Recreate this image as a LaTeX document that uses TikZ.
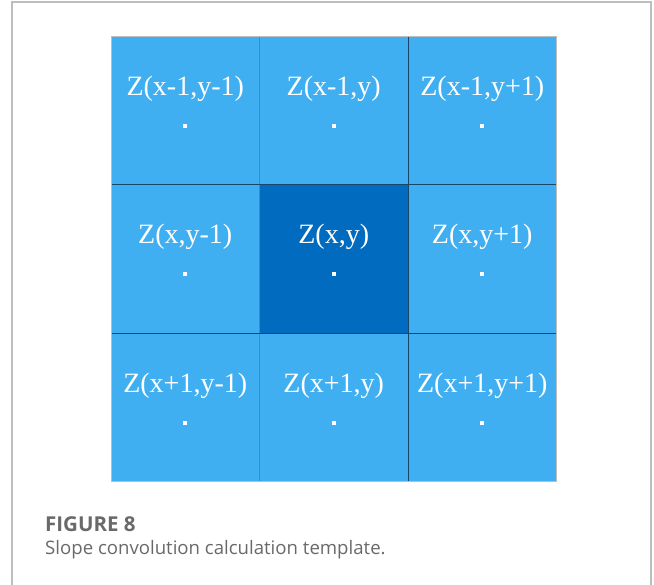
\documentclass[tikz,border=0pt]{standalone}
\usepackage{fontspec}
\setmainfont{Liberation Serif}
\newfontfamily\capfont{Open Sans}
\usetikzlibrary{positioning,calc}
\definecolor{cellblue}{RGB}{63,175,242}
\definecolor{midblue}{RGB}{0,107,191}
\definecolor{cellline}{RGB}{45,145,210}
\definecolor{sepline}{RGB}{25,70,105}
\definecolor{framegray}{RGB}{190,190,190}
\definecolor{capgray}{RGB}{105,105,105}

\begin{document}
\begin{tikzpicture}[x=1pt,y=1pt,node distance=0pt,
 c/.style={draw=cellline,fill=cellblue,minimum width=148.5pt,minimum height=148.5pt,inner sep=0pt,outer sep=0pt},
 t/.style={anchor=base,text=white,inner sep=0pt,font=\fontsize{28}{32}\selectfont},
 d/.style={fill=white,minimum size=4pt,inner sep=0pt},
 s/.style={draw=sepline,line width=0.8pt}]
\useasboundingbox (0,0) rectangle (654,585);
\draw[framegray,line width=1.2pt] (12,-2) -- (12,583) -- (651,583) -- (651,-2);
% 3x3 template
\node[c,anchor=north west] (c11) at (111,549) {};
\node[c,right=of c11] (c12) {};
\node[c,right=of c12] (c13) {};
\node[c,below=of c11] (c21) {};
\node[c,right=of c21,fill=midblue] (c22) {};
\node[c,right=of c22] (c23) {};
\node[c,below=of c21] (c31) {};
\node[c,right=of c31] (c32) {};
\node[c,right=of c32] (c33) {};
\draw[s] (c21.north west) -- (c23.north east);
\draw[s] (c31.north west) -- (c33.north east);
\draw[s] (c13.north west) -- (c33.south west);
\draw[framegray,line width=0.6pt] (c11.north west) rectangle (c33.south east);
% labels
\node[t] (t11) at ($(c11.north)+(0,-59.5)$) {Z(x-1,y-1)};
\node[t] (t12) at ($(c12.north)+(0,-59.5)$) {Z(x-1,y)};
\node[t] (t13) at ($(c13.north)+(0,-59.5)$) {Z(x-1,y+1)};
\node[t] (t21) at ($(c21.north)+(0,-59.5)$) {Z(x,y-1)};
\node[t] (t22) at ($(c22.north)+(0,-59.5)$) {Z(x,y)};
\node[t] (t23) at ($(c23.north)+(0,-59.5)$) {Z(x,y+1)};
\node[t] (t31) at ($(c31.north)+(0,-59.5)$) {Z(x+1,y-1)};
\node[t] (t32) at ($(c32.north)+(0,-59.5)$) {Z(x+1,y)};
\node[t] (t33) at ($(c33.north)+(0,-59.5)$) {Z(x+1,y+1)};
\node[d] (d11) at ($(c11.north)+(0,-90)$) {};
\node[d] (d12) at ($(c12.north)+(0,-90)$) {};
\node[d] (d13) at ($(c13.north)+(0,-90)$) {};
\node[d] (d21) at ($(c21.north)+(0,-90)$) {};
\node[d] (d22) at ($(c22.north)+(0,-90)$) {};
\node[d] (d23) at ($(c23.north)+(0,-90)$) {};
\node[d] (d31) at ($(c31.north)+(0,-90)$) {};
\node[d] (d32) at ($(c32.north)+(0,-90)$) {};
\node[d] (d33) at ($(c33.north)+(0,-90)$) {};
% caption
\node[anchor=base west,inner sep=0pt,text=capgray,font=\capfont\bfseries\fontsize{20.5}{22}\selectfont] (fig) at (45,53) {FIGURE 8};
\node[anchor=base west,inner sep=0pt,text=capgray,font=\capfont\fontsize{18.6}{20}\selectfont] (cap) at (45,30) {Slope convolution calculation template.};
\end{tikzpicture}
\end{document}
